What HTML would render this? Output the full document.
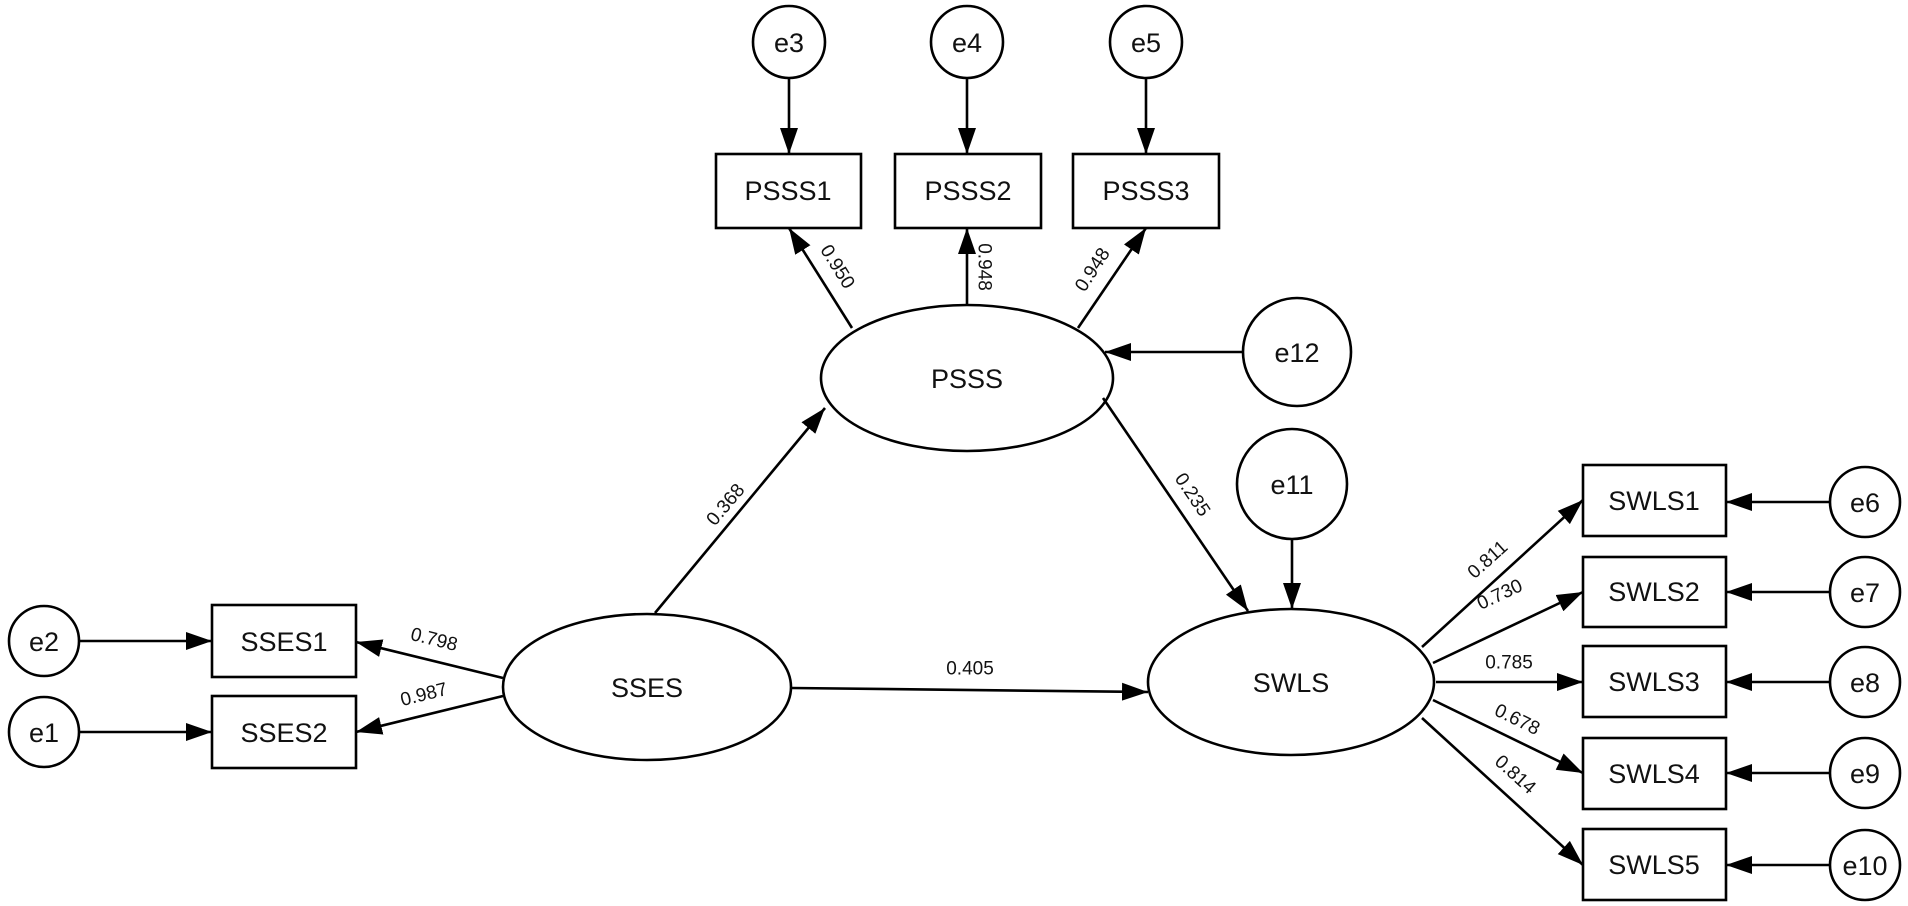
<!DOCTYPE html>
<html><head><meta charset="utf-8"><style>
html,body{margin:0;padding:0;background:#fff;}
svg{display:block;}
text{font-family:"Liberation Sans",Arial,sans-serif;fill:#111;}
.n{font-size:27px;text-anchor:middle;dominant-baseline:central;}
.l{font-size:19px;text-anchor:middle;dominant-baseline:central;}
</style></head><body>
<svg width="1908" height="906" viewBox="0 0 1908 906" xmlns="http://www.w3.org/2000/svg">
<defs>
<marker id="a" markerUnits="userSpaceOnUse" markerWidth="28" markerHeight="20" refX="26" refY="10" orient="auto">
<path d="M0,1 L26,10 L0,19 Z" fill="#000"/>
</marker>
</defs>
<g fill="none" stroke="#000" stroke-width="2.6">
<!-- e circles top -->
<circle cx="789" cy="42" r="36" fill="#fff"/>
<circle cx="967" cy="42" r="36" fill="#fff"/>
<circle cx="1146" cy="42" r="36" fill="#fff"/>
<rect x="716" y="154" width="145" height="74" fill="#fff"/>
<rect x="895" y="154" width="146" height="74" fill="#fff"/>
<rect x="1073" y="154" width="146" height="74" fill="#fff"/>
<ellipse cx="967" cy="378" rx="146" ry="73" fill="#fff"/>
<circle cx="1297" cy="352" r="54" fill="#fff"/>
<circle cx="1292" cy="484" r="55" fill="#fff"/>
<ellipse cx="647" cy="687" rx="144" ry="73" fill="#fff"/>
<ellipse cx="1291" cy="682" rx="143" ry="73" fill="#fff"/>
<circle cx="44" cy="641" r="35" fill="#fff"/>
<circle cx="44" cy="732" r="35" fill="#fff"/>
<rect x="212" y="605" width="144" height="72" fill="#fff"/>
<rect x="212" y="696" width="144" height="72" fill="#fff"/>
<rect x="1583" y="465" width="143" height="71" fill="#fff"/>
<rect x="1583" y="557" width="143" height="70" fill="#fff"/>
<rect x="1583" y="646" width="143" height="71" fill="#fff"/>
<rect x="1583" y="738" width="143" height="71" fill="#fff"/>
<rect x="1583" y="829" width="143" height="71" fill="#fff"/>
<circle cx="1865" cy="502" r="35" fill="#fff"/>
<circle cx="1865" cy="592" r="35" fill="#fff"/>
<circle cx="1865" cy="682" r="35" fill="#fff"/>
<circle cx="1865" cy="773" r="35" fill="#fff"/>
<circle cx="1865" cy="865" r="35" fill="#fff"/>
</g>
<g stroke="#000" stroke-width="2.6" marker-end="url(#a)">
<line x1="789" y1="78" x2="789" y2="154"/>
<line x1="967" y1="78" x2="967" y2="154"/>
<line x1="1146" y1="78" x2="1146" y2="154"/>
<line x1="852" y1="328" x2="789" y2="228"/>
<line x1="967" y1="305" x2="967" y2="228"/>
<line x1="1078" y1="328" x2="1146" y2="228"/>
<line x1="1243" y1="352" x2="1105" y2="352"/>
<line x1="655" y1="613" x2="825" y2="408"/>
<line x1="1103" y1="398" x2="1248" y2="611"/>
<line x1="1292" y1="539" x2="1292" y2="609"/>
<line x1="792" y1="688" x2="1148" y2="692"/>
<line x1="79" y1="641" x2="212" y2="641"/>
<line x1="79" y1="732" x2="212" y2="732"/>
<line x1="503" y1="678" x2="356" y2="642"/>
<line x1="503" y1="696" x2="356" y2="732"/>
<line x1="1422" y1="647" x2="1583" y2="500"/>
<line x1="1433" y1="663" x2="1583" y2="592"/>
<line x1="1436" y1="682" x2="1583" y2="682"/>
<line x1="1433" y1="700" x2="1583" y2="773"/>
<line x1="1422" y1="718" x2="1583" y2="865"/>
<line x1="1830" y1="502" x2="1726" y2="502"/>
<line x1="1830" y1="592" x2="1726" y2="592"/>
<line x1="1830" y1="682" x2="1726" y2="682"/>
<line x1="1830" y1="773" x2="1726" y2="773"/>
<line x1="1830" y1="865" x2="1726" y2="865"/>
</g>
<text class="n" x="789" y="43">e3</text>
<text class="n" x="967" y="43">e4</text>
<text class="n" x="1146" y="43">e5</text>
<text class="n" x="788" y="191">PSSS1</text>
<text class="n" x="968" y="191">PSSS2</text>
<text class="n" x="1146" y="191">PSSS3</text>
<text class="n" x="967" y="379">PSSS</text>
<text class="n" x="1297" y="353">e12</text>
<text class="n" x="1292" y="485">e11</text>
<text class="n" x="647" y="688">SSES</text>
<text class="n" x="1291" y="683">SWLS</text>
<text class="n" x="44" y="642">e2</text>
<text class="n" x="44" y="733">e1</text>
<text class="n" x="284" y="642">SSES1</text>
<text class="n" x="284" y="733">SSES2</text>
<text class="n" x="1654" y="501">SWLS1</text>
<text class="n" x="1654" y="592">SWLS2</text>
<text class="n" x="1654" y="682">SWLS3</text>
<text class="n" x="1654" y="774">SWLS4</text>
<text class="n" x="1654" y="865">SWLS5</text>
<text class="n" x="1865" y="503">e6</text>
<text class="n" x="1865" y="593">e7</text>
<text class="n" x="1865" y="683">e8</text>
<text class="n" x="1865" y="774">e9</text>
<text class="n" x="1865" y="866">e10</text>
<text class="l" transform="translate(837,267) rotate(58)">0.950</text>
<text class="l" transform="translate(984,267) rotate(90)">0.948</text>
<text class="l" transform="translate(1093,270) rotate(-57)">0.948</text>
<text class="l" transform="translate(726,505) rotate(-50)">0.368</text>
<text class="l" transform="translate(1192,495) rotate(56)">0.235</text>
<text class="l" x="970" y="669">0.405</text>
<text class="l" transform="translate(434,640) rotate(14)">0.798</text>
<text class="l" transform="translate(424,695) rotate(-14)">0.987</text>
<text class="l" transform="translate(1488,560) rotate(-42)">0.811</text>
<text class="l" transform="translate(1500,595) rotate(-25)">0.730</text>
<text class="l" x="1509" y="663">0.785</text>
<text class="l" transform="translate(1517,720) rotate(26)">0.678</text>
<text class="l" transform="translate(1515,775) rotate(42)">0.814</text>
</svg>
</body></html>
